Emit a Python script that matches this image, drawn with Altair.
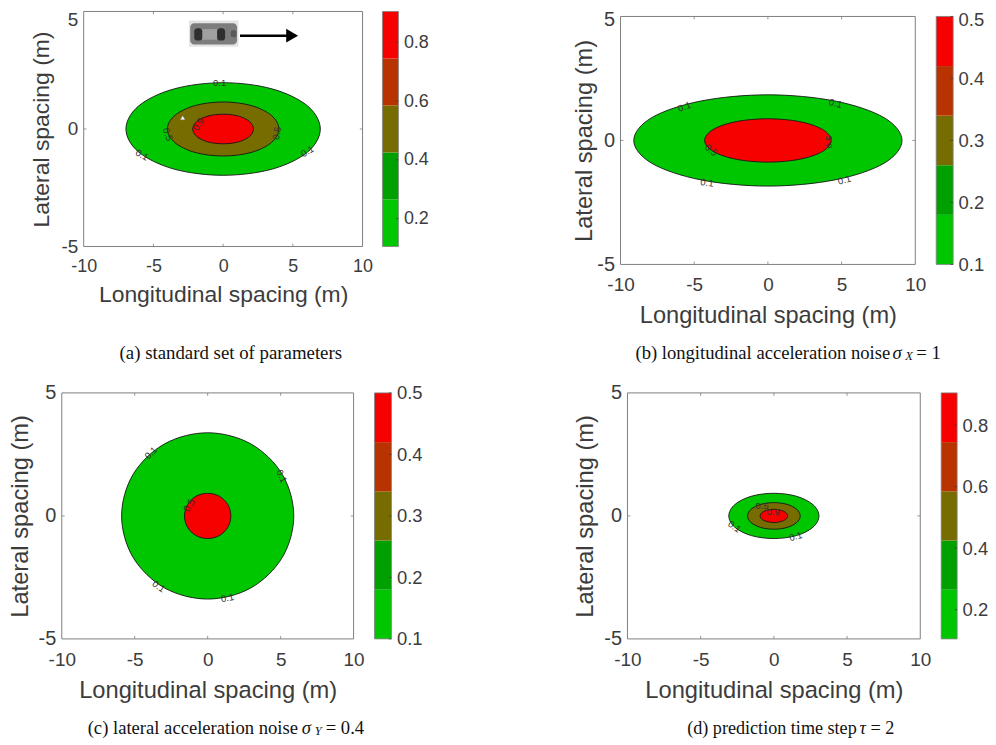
import altair as alt
import pandas as pd

X_TICKS = [-10, -5, 0, 5, 10]
Y_TICKS = [-5, 0, 5]
GREEN, DGREEN, OLIVE, RUST, RED = "#00c600", "#00a000", "#776c00", "#b83300", "#f60000"
BAND_COLORS = [GREEN, DGREEN, OLIVE, RUST, RED]
BANDS_WIDE = [0.105, 0.265, 0.425, 0.585, 0.745, 0.905]
BANDS_NARROW = [0.1, 0.18, 0.26, 0.34, 0.42, 0.5]
CB_TICKS_WIDE = [0.2, 0.4, 0.6, 0.8]
CB_TICKS_NARROW = [0.1, 0.2, 0.3, 0.4, 0.5]

A_OUT_X = [6.97, 6.04, 3.49, 0, -3.49, -6.04, -6.97, -6.04, -3.49, 0, 3.49, 6.04]
A_OUT_Y = [0, 0.99, 1.71, 1.97, 1.71, 0.99, 0, -0.99, -1.71, -1.97, -1.71, -0.99]
A_MID_X = [4.0, 3.46, 2.0, 0, -2.0, -3.46, -4.0, -3.46, -2.0, 0, 2.0, 3.46]
A_MID_Y = [0, 0.58, 1.0, 1.15, 1.0, 0.58, 0, -0.58, -1.0, -1.15, -1.0, -0.58]
A_IN_X = [2.18, 1.89, 1.09, 0, -1.09, -1.89, -2.18, -1.89, -1.09, 0, 1.09, 1.89]
A_IN_Y = [0, 0.32, 0.55, 0.63, 0.55, 0.32, 0, -0.32, -0.55, -0.63, -0.55, -0.32]
B_OUT_X = [9.1, 7.88, 4.55, 0, -4.55, -7.88, -9.1, -7.88, -4.55, 0, 4.55, 7.88]
B_OUT_Y = [0, 0.92, 1.59, 1.84, 1.59, 0.92, 0, -0.92, -1.59, -1.84, -1.59, -0.92]
B_IN_X = [4.29, 3.72, 2.15, 0, -2.15, -3.72, -4.29, -3.72, -2.15, 0, 2.15, 3.72]
B_IN_Y = [0, 0.44, 0.76, 0.875, 0.76, 0.44, 0, -0.44, -0.76, -0.875, -0.76, -0.44]
C_OUT_X = [5.9, 5.11, 2.95, 0, -2.95, -5.11, -5.9, -5.11, -2.95, 0, 2.95, 5.11]
C_OUT_Y = [0, 1.69, 2.93, 3.38, 2.93, 1.69, 0, -1.69, -2.93, -3.38, -2.93, -1.69]
C_IN_X = [1.59, 1.38, 0.8, 0, -0.8, -1.38, -1.59, -1.38, -0.8, 0, 0.8, 1.38]
C_IN_Y = [0, 0.46, 0.8, 0.92, 0.8, 0.46, 0, -0.46, -0.8, -0.92, -0.8, -0.46]
D_OUT_X = [3.08, 2.67, 1.54, 0, -1.54, -2.67, -3.08, -2.67, -1.54, 0, 1.54, 2.67]
D_OUT_Y = [0, 0.46, 0.8, 0.92, 0.8, 0.46, 0, -0.46, -0.8, -0.92, -0.8, -0.46]
D_MID_X = [1.8, 1.56, 0.9, 0, -0.9, -1.56, -1.8, -1.56, -0.9, 0, 0.9, 1.56]
D_MID_Y = [0, 0.27, 0.47, 0.54, 0.47, 0.27, 0, -0.27, -0.47, -0.54, -0.47, -0.27]
D_IN_X = [0.94, 0.81, 0.47, 0, -0.47, -0.81, -0.94, -0.81, -0.47, 0, 0.47, 0.81]
D_IN_Y = [0, 0.14, 0.23, 0.27, 0.23, 0.14, 0, -0.14, -0.23, -0.27, -0.23, -0.14]

A_LABELS = [(-0.25, 1.96, "0.1", 0), (-5.82, -1.11, "0.1", 30), (6.05, -0.96, "0.1", 330),
            (-3.99, -0.23, "0.5", 70), (3.87, -0.18, "0.5", 280), (-1.77, 0.2, "0.9", 300)]
B_LABELS = [(-5.66, 1.35, "0.1", 340), (4.58, 1.49, "0.1", 15), (-4.13, -1.71, "0.1", 8),
            (5.19, -1.6, "0.1", 345), (-3.86, -0.39, "0.5", 40), (4.18, -0.06, "0.5", 270)]
C_LABELS = [(-3.88, 2.56, "0.1", 315), (5.06, 1.61, "0.1", 65), (-3.36, -2.87, "0.1", 35),
            (1.35, -3.34, "0.1", 350), (-1.26, 0.43, "0.5", 300)]
D_LABELS = [(-2.7, -0.44, "0.1", 35), (1.5, -0.84, "0.1", 345), (-0.8, 0.4, "0.5", 0),
            (-0.05, 0.15, "0.9", 0)]

# text, left, top, italic, size
A_CAPTION = [("(a) standard set of parameters", 36, 343, False, 18.9)]
B_CAPTION = [("(b) longitudinal acceleration noise", 15, 343, False, 18.7), ("σ", 273, 343, True, 18.7),
             ("X", 286, 346, True, 12.5), ("= 1", 297, 343, False, 18.7)]
C_CAPTION = [("(c) lateral acceleration noise", 26, 336, False, 18.7), ("σ", 241, 336, True, 18.7),
             ("Y", 254, 339, True, 12.5), ("= 0.4", 265, 336, False, 18.7)]
D_CAPTION = [("(d) prediction time step", 60, 337, False, 18.2), ("τ", 233, 337, True, 18.2),
             ("= 2", 244, 337, False, 18.2)]

CAR_BOX = (-2.45, 1.1, 4.62, 3.5, "#e4e4e4", 0)
CAR_BODY = (-2.36, 1.0, 4.5, 3.6, "#7d7d7d", 4)
CAR_ROOF = (-1.5, -0.43, 4.25, 3.8, "#a0a0a0", 0)
CAR_WIN1 = (-2.07, -1.5, 4.29, 3.76, "#2f2f2f", 3)
CAR_WIN2 = (-0.43, 0.14, 4.29, 3.76, "#2f2f2f", 3)
CAR_NOSE = (0.55, 0.95, 4.2, 3.9, "#5a5a5a", 2)
CAR_PARTS = [CAR_BOX, CAR_BODY, CAR_ROOF, CAR_WIN1, CAR_WIN2, CAR_NOSE]
ARROW_X = [1.21, 4.6]
ARROW_Y = [3.97]
ARROW_HEAD_X = [4.95]
CURSOR_X, CURSOR_Y = [-2.9], [0.45]

TXT = "#3c3c3c"
FRAME = "#7f7f7f"
FONT = "Liberation Sans"


def panel(w, h, yrange, curves, labels, caption, label_size, title_size, x_lab, x_title, y_title, extra=None, lift=0):
    sx = alt.Scale(domain=[-10, 10], range=[0, w], nice=False)
    sy = alt.Scale(domain=[-5, 5], range=yrange, nice=False)
    X = lambda f: alt.X(f, type="quantitative", scale=sx)
    Y = lambda f: alt.Y(f, type="quantitative", scale=sy)
    lift_offset = {"condition": {"test": "datum.value == 5", "value": lift}, "value": 0} if lift else 0
    x_axis = alt.Axis(values=X_TICKS, labelExpr="'' + datum.value", title="Longitudinal spacing (m)", grid=False,
                      domain=False, ticks=False, labelFont=FONT, labelFontSize=label_size, labelColor=TXT,
                      titleFont=FONT, titleFontSize=title_size, titleFontWeight="normal", titleColor=TXT,
                      labelPadding=x_lab, titlePadding=x_title, labelFlush=False, labelOverlap=False)
    y_axis = alt.Axis(values=Y_TICKS, labelExpr="'' + datum.value", title="Lateral spacing (m)", grid=False,
                      domain=False, ticks=False, labelFont=FONT, labelFontSize=label_size + 1, labelColor=TXT,
                      titleFont=FONT, titleFontSize=title_size, titleFontWeight="normal", titleColor=TXT,
                      labelPadding=6, titlePadding=y_title, labelFlush=False, labelOverlap=False, labelOffset=lift_offset)
    base = alt.Chart(pd.DataFrame({"x": [-10], "x2": [10], "y": [-5], "y2": [5]})).mark_rect(
        fill="#ffffff", stroke=FRAME, strokeWidth=1).encode(
        x=alt.X("x:Q", scale=sx, axis=x_axis), x2="x2:Q",
        y=alt.Y("y:Q", scale=sy, axis=y_axis), y2="y2:Q")
    layers = [base]
    for xs, ys, color in curves:
        df = pd.DataFrame({"x": xs, "y": ys, "i": list(range(len(xs)))})
        layers.append(alt.Chart(df).mark_line(fill=color, stroke="#151515", strokeWidth=0.9,
                                              interpolate="cardinal-closed").encode(
            x=X("x"), y=Y("y"), order=alt.Order("i:Q")))
    ldf = pd.DataFrame(labels, columns=["x", "y", "t", "a"])
    layers.append(alt.Chart(ldf).mark_text(font=FONT, fontSize=9.5, color="#333333").encode(
        x=X("x"), y=Y("y"), text="t:N", angle=alt.Angle("a:Q", scale=None)))
    tx = pd.DataFrame({"v": X_TICKS[1:-1]})
    for lo, hi in ((-5, -4.88), (5, 4.88)):
        layers.append(alt.Chart(tx).transform_calculate(a=str(lo), b=str(hi)).mark_rule(color=FRAME, strokeWidth=0.8).encode(
            x=X("v"), y=Y("a:Q"), y2="b:Q"))
    ty = pd.DataFrame({"v": [0]})
    for lo, hi in ((-10, -9.8), (10, 9.8)):
        layers.append(alt.Chart(ty).transform_calculate(a=str(lo), b=str(hi)).mark_rule(color=FRAME, strokeWidth=0.8).encode(
            y=Y("v"), x=X("a:Q"), x2="b:Q"))
    if extra:
        layers += extra(X, Y)
    for text, left, top, italic, size in caption:
        layers.append(alt.Chart(pd.DataFrame({"t": [text]})).mark_text(
            font="Liberation Serif", fontSize=size, color="#111111", align="left", baseline="middle",
            fontStyle="italic" if italic else "normal").encode(
            x=alt.value(left), y=alt.value(top), text="t:N"))
    return alt.layer(*layers).properties(width=w, height=h)


def car_layers(X, Y):
    out = []
    for x0, x1, y0, y1, color, radius in CAR_PARTS:
        out.append(alt.Chart(pd.DataFrame({"x": [x0], "x2": [x1], "y": [y0], "y2": [y1]})).mark_rect(
            fill=color, cornerRadius=radius).encode(x=X("x"), x2="x2:Q", y=Y("y"), y2="y2:Q"))
    out.append(alt.Chart(pd.DataFrame({"x": [ARROW_X[0]], "x2": [ARROW_X[1]], "y": ARROW_Y})).mark_rule(
        color="#000000", strokeWidth=2.4).encode(x=X("x"), x2="x2:Q", y=Y("y")))
    out.append(alt.Chart(pd.DataFrame({"x": ARROW_HEAD_X, "y": ARROW_Y})).mark_point(
        shape="triangle-right", filled=True, color="#000000", size=190, opacity=1).encode(x=X("x"), y=Y("y")))
    out.append(alt.Chart(pd.DataFrame({"x": CURSOR_X, "y": CURSOR_Y})).mark_point(
        shape="triangle", filled=True, fill="#ffffff", stroke="#8a8a8a", strokeWidth=0.5, size=22, opacity=1).encode(
        x=X("x"), y=Y("y")))
    return out


def colorbar(w, h, yrange, bands, ticks, label_size, lift=0):
    sx = alt.Scale(domain=[0, 1], range=[0, w], nice=False)
    sy = alt.Scale(domain=[bands[0], bands[-1]], range=yrange, nice=False)
    df = pd.DataFrame({"lo": bands[:-1], "hi": bands[1:], "c": BAND_COLORS, "a": [0] * 5, "b": [1] * 5})
    lift_offset = {"condition": {"test": "datum.value == 0.5", "value": lift}, "value": 0} if lift else 0
    axis = alt.Axis(orient="right", values=ticks, format=".1f", title=None, grid=False, domain=False, ticks=False,
                    labelFont=FONT, labelFontSize=label_size, labelColor=TXT, labelPadding=5,
                    labelFlush=False, labelOverlap=False, labelOffset=lift_offset)
    rect = alt.Chart(df).mark_rect(strokeWidth=0).encode(
        x=alt.X("a:Q", scale=sx, axis=None), x2="b:Q",
        y=alt.Y("lo:Q", scale=sy, axis=axis), y2="hi:Q",
        fill=alt.Fill("c:N", scale=None))
    frame = alt.Chart(pd.DataFrame({"a": [0], "b": [1], "lo": [bands[0]], "hi": [bands[-1]]})).mark_rect(
        fillOpacity=0, stroke=FRAME, strokeWidth=0.8).encode(
        x=alt.X("a:Q", scale=sx, axis=None), x2="b:Q", y=alt.Y("lo:Q", scale=sy), y2="hi:Q")
    tk = alt.Chart(pd.DataFrame({"v": ticks, "a": [0.84] * len(ticks), "b": [1] * len(ticks)})).mark_rule(
        color="#3a3a3a", strokeWidth=0.7).encode(
        x=alt.X("a:Q", scale=sx, axis=None), x2="b:Q", y=alt.Y("v:Q", scale=sy))
    return alt.layer(rect, frame, tk).properties(width=w, height=h)


def gap(w):
    return alt.Chart(pd.DataFrame({"a": [0]})).mark_point(opacity=0).encode(
        x=alt.value(0), y=alt.value(0)).properties(width=w, height=1)


a = panel(280, 236, [236, 0], [(A_OUT_X, A_OUT_Y, GREEN), (A_MID_X, A_MID_Y, OLIVE), (A_IN_X, A_IN_Y, RED)],
          A_LABELS, A_CAPTION, 18, 23, 11, 8, 7, extra=car_layers, lift=8)
b = panel(296, 254, [254, 5], [(B_OUT_X, B_OUT_Y, GREEN), (B_IN_X, B_IN_Y, RED)],
          B_LABELS, B_CAPTION, 19, 23.7, 11, 9, 0, lift=3)
c = panel(293, 247, [247, 0], [(C_OUT_X, C_OUT_Y, GREEN), (C_IN_X, C_IN_Y, RED)],
          C_LABELS, C_CAPTION, 19, 23.8, 12, 9, 6)
d = panel(294, 247, [247, 0], [(D_OUT_X, D_OUT_Y, GREEN), (D_MID_X, D_MID_Y, OLIVE), (D_IN_X, D_IN_Y, RED)],
          D_LABELS, D_CAPTION, 19, 23.8, 12, 9, 6)
cba = colorbar(16, 236, [236, 0], BANDS_WIDE, CB_TICKS_WIDE, 18)
cbb = colorbar(17, 254, [254, 5], BANDS_NARROW, CB_TICKS_NARROW, 18.5, lift=3)
cbc = colorbar(17, 247, [247, 0], BANDS_NARROW, CB_TICKS_NARROW, 18.5)
cbd = colorbar(16, 247, [247, 0], BANDS_WIDE, CB_TICKS_WIDE, 18.5)

row1 = alt.hconcat(gap(22), a, gap(20), cba, gap(223), b, gap(21), cbb, spacing=0, bounds="flush")
row2 = alt.hconcat(c, gap(21), cbc, gap(237), d, gap(21), cbd, spacing=0, bounds="flush")
chart = alt.vconcat(row1, row2, spacing=383, bounds="flush").properties(
    padding={"left": 0, "top": -1, "right": 0, "bottom": 0}).configure_view(stroke=None)

chart.save("out.html", embed_options={"renderer": "svg", "actions": False})
